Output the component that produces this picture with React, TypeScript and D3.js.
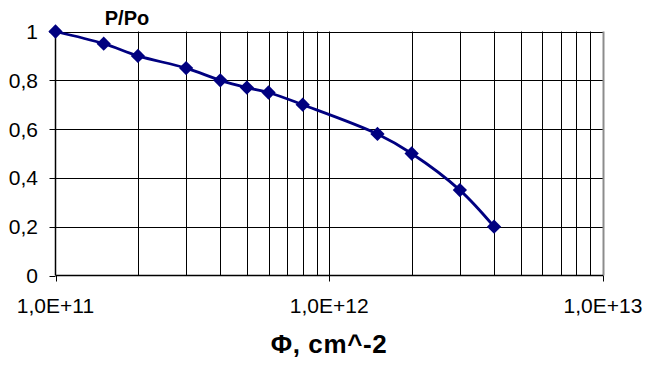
import React, { useEffect, useRef } from "react";
import * as d3 from "d3";

// Fluence (cm^-2) and relative output P/Po
const fluence = [1e11, 1.5e11, 2e11, 3e11, 4e11, 5e11, 6e11, 8e11, 1.5e12, 2e12, 3e12, 4e12];
const ratio = [1, 0.95, 0.9, 0.85, 0.8, 0.77, 0.75, 0.7, 0.58, 0.5, 0.35, 0.2];

const yTicks = [0, 0.2, 0.4, 0.6, 0.8, 1];
const yTickLabels = ["0", "0,2", "0,4", "0,6", "0,8", "1"];
const xDecades = [1e11, 1e12, 1e13];
const xDecadeLabels = ["1,0E+11", "1,0E+12", "1,0E+13"];

const yTitle = "P/Po";
const xTitle = "Φ, cm^-2";

const W = 645;
const H = 365;
const FONT = "Arial, 'Liberation Sans', sans-serif";

export default function App() {
  const ref = useRef<SVGSVGElement | null>(null);

  useEffect(() => {
    const svg = d3.select(ref.current);
    svg.selectAll("*").remove();

    const x = d3.scaleLog().domain([1e11, 1e13]).range([55.5, 603]);
    const y = d3.scaleLinear().domain([0, 1]).range([275.5, 31.5]);

    const [x0, x1] = x.range();
    const [y0, y1] = y.range();

    // minor gridlines: 2..9 within each decade, plus decade lines
    const minor: number[] = [];
    for (let e = 11; e < 13; e++) {
      for (let k = 1; k <= 9; k++) minor.push(k * Math.pow(10, e));
    }
    const g = svg.append("g");

    g.selectAll("line.vgrid")
      .data(minor.filter((v) => v > 1e11))
      .join("line")
      .attr("x1", (d) => Math.round(x(d)) + 0.5)
      .attr("x2", (d) => Math.round(x(d)) + 0.5)
      .attr("y1", y1)
      .attr("y2", y0)
      .attr("stroke", "#000")
      .attr("stroke-width", 1);

    g.selectAll("line.hgrid")
      .data(yTicks.filter((v) => v > 0))
      .join("line")
      .attr("x1", x0)
      .attr("x2", x1)
      .attr("y1", (d) => Math.round(y(d)) + 0.5)
      .attr("y2", (d) => Math.round(y(d)) + 0.5)
      .attr("stroke", "#000")
      .attr("stroke-width", 1);

    // right border of plot area
    g.append("line")
      .attr("x1", x1 + 0.5)
      .attr("x2", x1 + 0.5)
      .attr("y1", y1)
      .attr("y2", y0)
      .attr("stroke", "#8c8c8c")
      .attr("stroke-width", 2);

    // axes
    g.append("line")
      .attr("x1", x0)
      .attr("x2", x0)
      .attr("y1", y1)
      .attr("y2", y0)
      .attr("stroke", "#000")
      .attr("stroke-width", 1.5);
    g.append("line")
      .attr("x1", x0)
      .attr("x2", x1)
      .attr("y1", y0)
      .attr("y2", y0)
      .attr("stroke", "#000")
      .attr("stroke-width", 1.5);

    // y ticks and labels
    g.selectAll("line.yt")
      .data(yTicks)
      .join("line")
      .attr("x1", x0 - 6)
      .attr("x2", x0)
      .attr("y1", (d) => Math.round(y(d)) + 0.5)
      .attr("y2", (d) => Math.round(y(d)) + 0.5)
      .attr("stroke", "#000");
    g.selectAll("text.yl")
      .data(yTicks)
      .join("text")
      .attr("x", 38)
      .attr("y", (d) => y(d) + 7.5)
      .attr("text-anchor", "end")
      .attr("font-family", FONT)
      .attr("font-size", 21)
      .text((_, i) => yTickLabels[i]);

    // x ticks and labels
    g.selectAll("line.xt")
      .data(xDecades)
      .join("line")
      .attr("x1", (d) => Math.round(x(d)) + 0.5)
      .attr("x2", (d) => Math.round(x(d)) + 0.5)
      .attr("y1", y0)
      .attr("y2", y0 + 6)
      .attr("stroke", "#000");
    g.selectAll("text.xl")
      .data(xDecades)
      .join("text")
      .attr("x", (d) => x(d))
      .attr("y", 313)
      .attr("text-anchor", "middle")
      .attr("font-family", FONT)
      .attr("font-size", 21)
      .text((_, i) => xDecadeLabels[i]);

    // titles
    svg.append("text")
      .attr("x", 127)
      .attr("y", 25)
      .attr("text-anchor", "middle")
      .attr("font-family", FONT)
      .attr("font-weight", "bold")
      .attr("font-size", 20)
      .text(yTitle);
    svg.append("text")
      .attr("x", 329)
      .attr("y", 353)
      .attr("text-anchor", "middle")
      .attr("font-family", FONT)
      .attr("font-weight", "bold")
      .attr("font-size", 26)
      .attr("letter-spacing", 0.6)
      .text(xTitle);

    // smoothed data line
    const pts = fluence.map((f, i) => [x(f), y(ratio[i])] as [number, number]);
    const line = d3.line().curve(d3.curveCatmullRom.alpha(0.5));
    svg.append("path")
      .attr("d", line(pts))
      .attr("fill", "none")
      .attr("stroke", "#000080")
      .attr("stroke-width", 2.8);

    // diamond markers
    const diamond = d3.symbol().type(d3.symbolDiamond2).size(130);
    svg.selectAll("path.mk")
      .data(pts)
      .join("path")
      .attr("d", diamond() as string)
      .attr("transform", (d) => `translate(${d[0]},${d[1]})`)
      .attr("fill", "#000080");
  }, []);

  return (
    <svg
      ref={ref}
      width={W}
      height={H}
      style={{ position: "absolute", left: 0, top: 0, background: "#fff" }}
    />
  );
}
